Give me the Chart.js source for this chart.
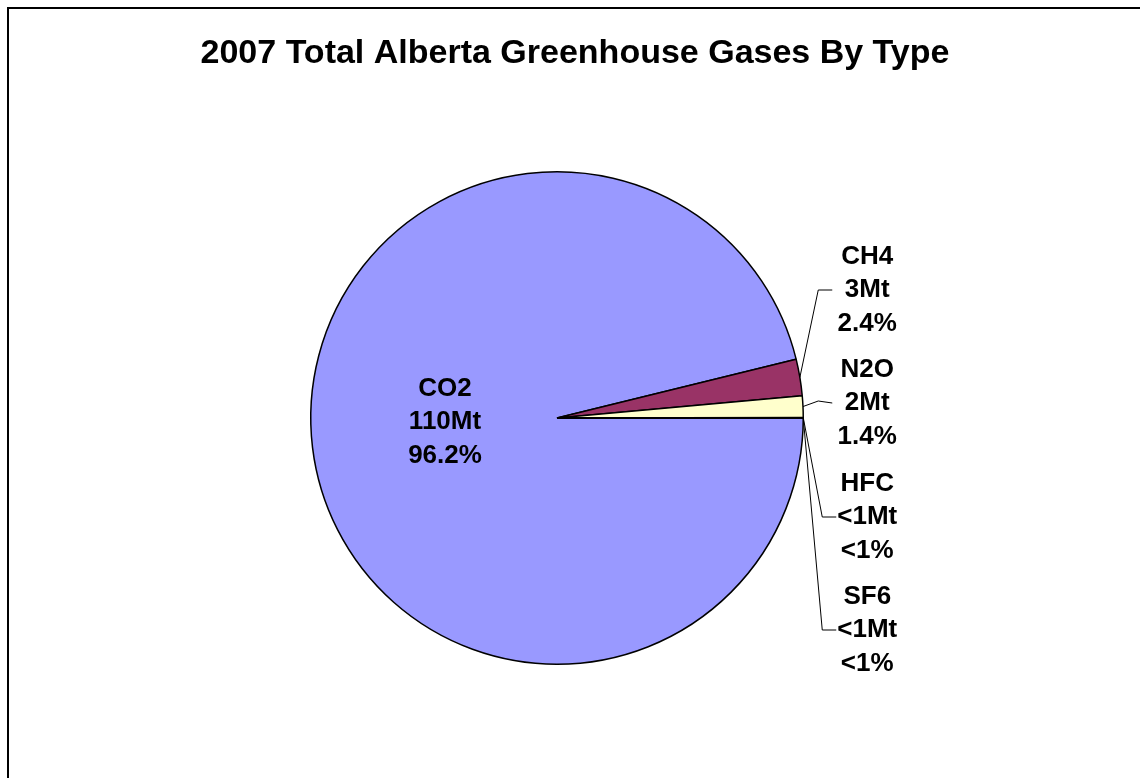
<!DOCTYPE html>
<html>
<head>
<meta charset="utf-8">
<style>
  html, body { margin: 0; padding: 0; background: #fff; }
  #wrap { width: 1140px; height: 778px; position: relative; }
</style>
<script src="https://cdn.jsdelivr.net/npm/chart.js@4/dist/chart.umd.min.js"></script>
</head>
<body>
<div id="wrap"><canvas id="pieChart" width="1140" height="778"></canvas></div>
<script>
const gasTypes = ["CO2", "CH4", "N2O", "HFC", "SF6"];
const shares = [96.2, 2.4, 1.4, 0.03, 0.01];
const amountLabels = ["110Mt", "3Mt", "2Mt", "<1Mt", "<1Mt"];
const percentLabels = ["96.2%", "2.4%", "1.4%", "<1%", "<1%"];
const sliceColors = ["#9999FF", "#993366", "#FFFFCC", "#00FFFF", "#660066"];

const chartTitle = "2007 Total Alberta Greenhouse Gases By Type";
const labelFont = "bold 26px 'Liberation Sans', Arial, sans-serif";

// Draws frame, title, data labels and leader lines
const annotatePlugin = {
  id: "annotate",
  beforeDraw(chart) {
    const ctx = chart.ctx;
    ctx.save();
    ctx.fillStyle = "#fff";
    ctx.fillRect(0, 0, chart.width, chart.height);
    ctx.strokeStyle = "#000";
    ctx.lineWidth = 2;
    ctx.strokeRect(8, 8, chart.width + 20, chart.height + 20);
    ctx.restore();
  },
  afterDraw(chart) {
    const ctx = chart.ctx;
    const arcs = chart.getDatasetMeta(0).data;
    const cx = arcs[0].x, cy = arcs[0].y, r = arcs[0].outerRadius;
    ctx.save();
    ctx.fillStyle = "#000";
    ctx.textAlign = "center";
    ctx.textBaseline = "middle";
    ctx.font = "bold 34px 'Liberation Sans', Arial, sans-serif";
    ctx.fillText(chartTitle, 575, 54);

    ctx.font = labelFont;
    const lineH = 33.5;
    // CO2 label inside the pie
    const lines0 = [gasTypes[0], amountLabels[0], percentLabels[0]];
    lines0.forEach((t, j) => ctx.fillText(t, cx - 112, cy + 4 + (j - 1) * lineH));

    // outside labels with leader lines
    const labelX = cx + r + 64;
    const midOffsets = [null, -128, -15, 99, 212];
    const elbowX = [null, 15, 15, 19, 19];
    for (let i = 1; i < gasTypes.length; i++) {
      const a = arcs[i];
      const mid = (a.startAngle + a.endAngle) / 2;
      const sx = cx + Math.cos(mid) * r;
      const sy = cy + Math.sin(mid) * r;
      const ly = cy + midOffsets[i];
      const lines = [gasTypes[i], amountLabels[i], percentLabels[i]];
      lines.forEach((t, j) => ctx.fillText(t, labelX, ly + (j - 1) * lineH));
      const endX = i < 3 ? labelX - 35 : labelX - 31;
      ctx.strokeStyle = "#000";
      ctx.lineWidth = 1;
      ctx.beginPath();
      ctx.moveTo(sx, sy);
      ctx.lineTo(cx + r + elbowX[i], i === 2 ? ly - 2 : ly);
      ctx.lineTo(endX, ly);
      ctx.stroke();
    }
    ctx.restore();
  }
};

new Chart(document.getElementById("pieChart"), {
  type: "pie",
  data: {
    labels: gasTypes,
    datasets: [{
      data: shares,
      backgroundColor: sliceColors,
      borderColor: "#000",
      borderWidth: 1.5
    }]
  },
  options: {
    responsive: false,
    animation: false,
    rotation: 90,
    layout: { padding: { left: 310, right: 336, top: 171, bottom: 113 } },
    plugins: {
      legend: { display: false },
      tooltip: { enabled: false },
      title: { display: false }
    }
  },
  plugins: [annotatePlugin]
});
</script>
</body>
</html>
